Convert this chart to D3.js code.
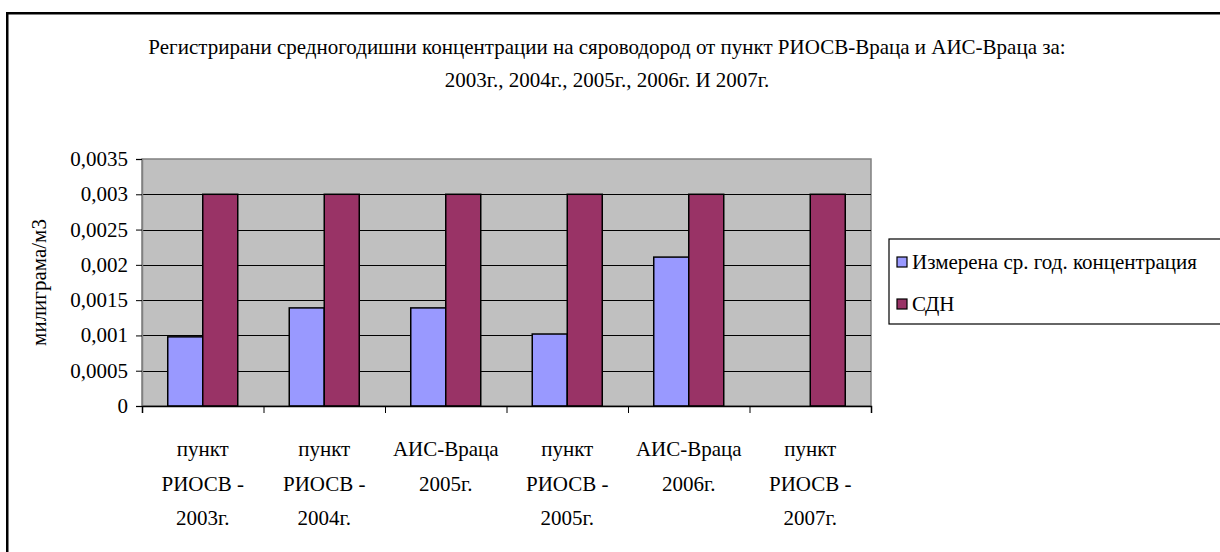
<!DOCTYPE html>
<html><head><meta charset="utf-8">
<script src="https://cdn.jsdelivr.net/npm/d3@7"></script>
<style>body{margin:0;background:#fff}svg{display:block}</style>
</head><body><svg id="c" width="1220" height="552"></svg>
<script>
const categories = [
  ["пункт","РИОСВ -","2003г."],
  ["пункт","РИОСВ -","2004г."],
  ["АИС-Враца","2005г."],
  ["пункт","РИОСВ -","2005г."],
  ["АИС-Враца","2006г."],
  ["пункт","РИОСВ -","2007г."]
];
const seriesNames = ["Измерена ср. год. концентрация","СДН"];
const measured = [0.00098, 0.00139, 0.00139, 0.00102, 0.00211, null];
const limit = [0.003, 0.003, 0.003, 0.003, 0.003, 0.003];
const yTicks = [0,0.0005,0.001,0.0015,0.002,0.0025,0.003,0.0035];
const yTickLabels = ["0","0,0005","0,001","0,0015","0,002","0,0025","0,003","0,0035"];
const titleLines = ["Регистрирани средногодишни концентрации на сяроводород от пункт РИОСВ-Враца и АИС-Враца за:","2003г., 2004г., 2005г., 2006г. И 2007г."];
const yTitle = "милиграма/м3";
const colors = ["#9999FF","#993366"];
const FF = "Liberation Serif";
const FS = 21;

const svg = d3.select("#c");
svg.append("rect").attr("x",6).attr("y",12).attr("width",1214).attr("height",2.5).attr("fill","#000");
svg.append("rect").attr("x",6).attr("y",12).attr("width",2.5).attr("height",540).attr("fill","#000");

const L=142,R=871,T=159,B=406;
const x = d3.scaleBand().domain(d3.range(categories.length)).range([L,R]).paddingInner(0).paddingOuter(0);
const y = d3.scaleLinear().domain([0,0.0035]).range([B,T]);

svg.append("rect").attr("x",L).attr("y",T).attr("width",R-L).attr("height",B-T)
  .attr("fill","#C0C0C0").attr("stroke","#808080").attr("stroke-width",1.5);

svg.append("g").selectAll("line").data(yTicks.filter(v=>v>0 && v<0.0035)).join("line")
  .attr("x1",L).attr("x2",R).attr("y1",d=>Math.round(y(d))+0.5).attr("y2",d=>Math.round(y(d))+0.5)
  .attr("stroke","#000").attr("stroke-width",1.2);

const inner = d3.scaleBand().domain([0,1]).range([0,x.bandwidth()]).paddingOuter(0.7357).paddingInner(0);
const data = [];
categories.forEach((c,i)=>{ [measured[i],limit[i]].forEach((v,s)=>{ if(v!=null) data.push({i,s,v}); }); });
svg.append("g").selectAll("rect").data(data).join("rect")
  .attr("x",d=>x(d.i)+inner(d.s)).attr("width",inner.bandwidth())
  .attr("y",d=>y(d.v)).attr("height",d=>B-y(d.v))
  .attr("fill",d=>colors[d.s]).attr("stroke","#000").attr("stroke-width",1.5);

const yAxis = d3.axisLeft(y).tickValues(yTicks).tickFormat("").tickSize(6);
const gy = svg.append("g").attr("transform",`translate(${L},0)`).call(yAxis);
gy.select(".domain").attr("stroke","#808080").attr("stroke-width",1.5);
gy.selectAll(".tick line").attr("stroke","#000");
svg.append("g").selectAll("text").data(yTicks).join("text")
  .attr("x",128).attr("y",d=>y(d)+7)
  .attr("text-anchor","end").attr("font-family",FF).attr("font-size",FS).attr("fill","#000")
  .text((d,i)=>yTickLabels[i]);

const xb = d3.scaleLinear().domain([0,categories.length]).range([L,R]);
const gx = svg.append("g").attr("transform",`translate(0,${B})`).call(d3.axisBottom(xb).tickValues(d3.range(categories.length+1)).tickFormat("").tickSize(7));
gx.select(".domain").attr("stroke","#000").attr("stroke-width",1.5);
gx.selectAll(".tick line").attr("stroke","#000");

categories.forEach((lines,i)=>{
  lines.forEach((ln,k)=>{
    svg.append("text").attr("x",x(i)+x.bandwidth()/2).attr("y",456+k*34.5)
      .attr("text-anchor","middle").attr("font-family",FF).attr("font-size",FS).text(ln);
  });
});

svg.append("text").attr("transform",`translate(46,${(T+B)/2}) rotate(-90)`).attr("text-anchor","middle")
  .attr("font-family",FF).attr("font-size",FS).text(yTitle);

titleLines.forEach((ln,k)=>{
  svg.append("text").attr("x",607).attr("y",54+k*33).attr("text-anchor","middle")
    .attr("font-family",FF).attr("font-size",FS).text(ln);
});

svg.append("rect").attr("x",889).attr("y",239).attr("width",400).attr("height",85)
  .attr("fill","#fff").attr("stroke","#000").attr("stroke-width",1.2);
const lg = svg.append("g").selectAll("g").data(seriesNames).join("g")
  .attr("transform",(d,i)=>`translate(897,${262+i*42})`);
lg.append("rect").attr("x",0).attr("y",-5).attr("width",10).attr("height",10)
  .attr("fill",(d,i)=>colors[i]).attr("stroke","#000").attr("stroke-width",1.2);
lg.append("text").attr("x",15).attr("y",7).attr("font-family",FF).attr("font-size",FS)
  .text(d=>d);
</script></body></html>
